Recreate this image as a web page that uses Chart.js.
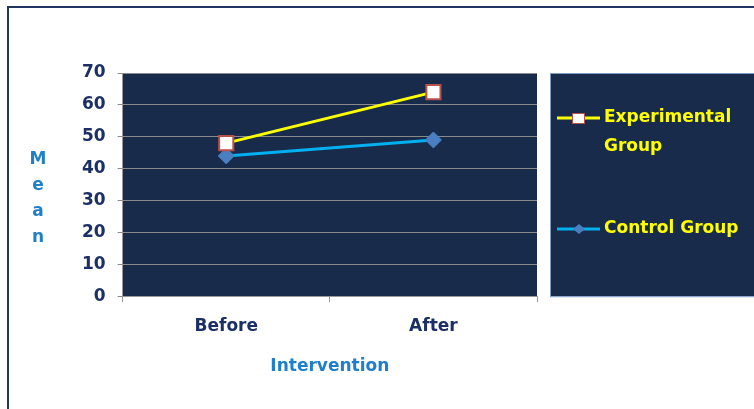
<!DOCTYPE html>
<html>
<head>
<meta charset="utf-8">
<script src="https://cdn.jsdelivr.net/npm/chart.js@4.4.1/dist/chart.umd.min.js"></script>
<style>
  html, body { margin: 0; padding: 0; background: #fff; }
  #wrap { width: 754px; height: 409px; position: relative; }
</style>
</head>
<body>
<div id="wrap"><canvas id="c" width="754" height="409"></canvas></div>
<script>
// data
const categories = ['Before', 'After'];
const experimental = [48, 64];
const control = [44, 49];
const seriesNames = ['Experimental Group', 'Control Group'];
const yTicks = [0, 10, 20, 30, 40, 50, 60, 70];

const NAVY = '#182b4a';
const LABEL = '#1b2e66';
const BLUE_T = '#1f7fc8';
const FONT = '"DejaVu Sans", Verdana, sans-serif';

// frame, plot background, legend box, stacked y title
const deco = {
  id: 'deco',
  beforeDraw(chart) {
    const { ctx, chartArea: a } = chart;
    ctx.save();
    ctx.fillStyle = '#fff';
    ctx.fillRect(0, 0, chart.width, chart.height);
    ctx.strokeStyle = '#1f3660';
    ctx.lineWidth = 2;
    ctx.beginPath();
    ctx.moveTo(8, chart.height);
    ctx.lineTo(8, 7);
    ctx.lineTo(chart.width, 7);
    ctx.stroke();
    ctx.fillStyle = NAVY;
    ctx.fillRect(a.left, a.top, a.right - a.left, a.bottom - a.top);
    ctx.restore();
  },
  afterDraw(chart) {
    const { ctx, chartArea: a } = chart;
    ctx.save();
    // legend box
    const lx = 550, ly = a.top, lw = 220, lh = a.bottom - a.top;
    ctx.fillStyle = NAVY;
    ctx.fillRect(lx, ly, lw, lh);
    ctx.strokeStyle = '#7f9cc4';
    ctx.lineWidth = 1;
    ctx.strokeRect(lx + 0.5, ly + 0.5, lw, lh);
    ctx.font = 'bold 17px ' + FONT;
    ctx.textBaseline = 'middle';
    const rows = [[118, ['Experimental', 'Group']], [229, ['Control Group']]];
    chart.data.datasets.forEach((ds, i) => {
      const y = rows[i][0];
      ctx.strokeStyle = ds.borderColor;
      ctx.lineWidth = 3;
      ctx.beginPath();
      ctx.moveTo(557, y);
      ctx.lineTo(600, y);
      ctx.stroke();
      ctx.fillStyle = ds.pointBackgroundColor;
      ctx.strokeStyle = ds.pointBorderColor;
      ctx.lineWidth = 1;
      if (ds.pointStyle === 'rect') {
        ctx.fillRect(572, y - 5, 13, 11);
        ctx.strokeRect(572.5, y - 4.5, 12, 10);
      } else {
        ctx.beginPath();
        ctx.moveTo(579, y - 5); ctx.lineTo(585, y); ctx.lineTo(579, y + 5); ctx.lineTo(573, y);
        ctx.closePath(); ctx.fill();
      }
      ctx.fillStyle = '#ffff00';
      ctx.textAlign = 'left';
      rows[i][1].forEach((t, k) => ctx.fillText(t, 604, y + k * 29));
    });
    // y title, letters stacked
    ctx.fillStyle = BLUE_T;
    ctx.textAlign = 'center';
    ctx.font = 'bold 17px ' + FONT;
    'Mean'.split('').forEach((ch, k) => ctx.fillText(ch, 38, 160 + k * 26));
    ctx.restore();
  }
};

new Chart(document.getElementById('c'), {
  type: 'line',
  data: {
    labels: categories,
    datasets: [
      { label: seriesNames[0], data: experimental, borderColor: '#ffff00', borderWidth: 3,
        pointStyle: 'rect', pointRadius: 10, pointBackgroundColor: '#ffffff',
        pointBorderColor: '#b8504b', pointBorderWidth: 2, tension: 0 },
      { label: seriesNames[1], data: control, borderColor: '#00b0f0', borderWidth: 3,
        pointStyle: 'rectRot', pointRadius: 8, pointBackgroundColor: '#4a7fc1',
        pointBorderColor: '#4a7fc1', pointBorderWidth: 1, tension: 0 }
    ]
  },
  options: {
    responsive: false,
    animation: false,
    layout: { padding: { top: 73, right: 217, left: 70, bottom: 28 } },
    plugins: { legend: { display: false }, tooltip: { enabled: false } },
    scales: {
      x: {
        offset: true,
        grid: { display: true, drawOnChartArea: false, offset: true, tickLength: 6, color: '#999' },
        border: { display: true, color: '#999' },
        ticks: { color: LABEL, font: { family: FONT, size: 17, weight: 'bold' }, padding: 14 },
        title: { display: true, text: 'Intervention', color: BLUE_T,
          font: { family: FONT, size: 17, weight: 'bold' }, padding: { top: 6 } }
      },
      y: {
        min: 0, max: 70,
        afterBuildTicks(s) { s.ticks = yTicks.map(v => ({ value: v })); },
        grid: { color: '#8a8a8a', lineWidth: 1, tickLength: 5 },
        border: { display: true, color: '#999' },
        ticks: { color: LABEL, font: { family: FONT, size: 17, weight: 'bold' }, padding: 12 }
      }
    }
  },
  plugins: [deco]
});
</script>
</body>
</html>
